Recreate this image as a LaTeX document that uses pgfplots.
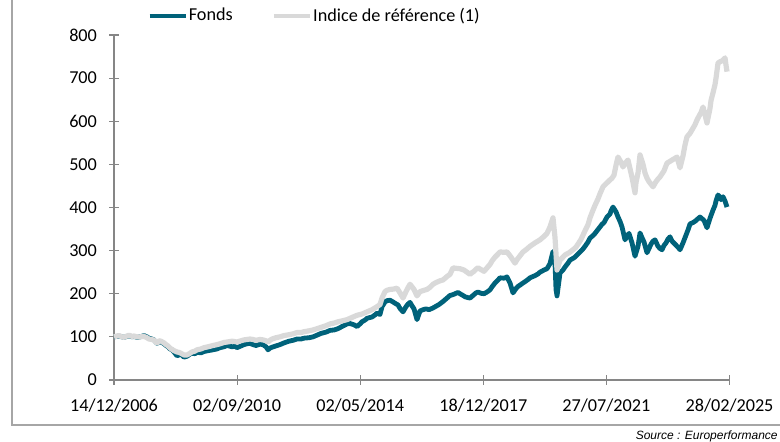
\documentclass[border=0pt]{standalone}
\usepackage{fontspec}
\setmainfont{Carlito}
\newfontfamily\arialfont{Liberation Sans}
\usepackage{pgfplots}
\pgfplotsset{compat=1.18}
\definecolor{fonds}{RGB}{0,98,122}
\definecolor{indice}{RGB}{217,217,217}
\definecolor{axgray}{RGB}{134,134,134}
\definecolor{framegray}{RGB}{166,166,166}
\begin{document}
\begin{tikzpicture}
\useasboundingbox (0,0) rectangle (390pt,221pt);
\clip (0,0) rectangle (390pt,221pt);
\draw[framegray, line width=0.8pt] (6pt,222pt) -- (6pt,8.5pt) -- (392pt,8.5pt);
\node[anchor=east, inner sep=0pt, font=\arialfont\itshape\fontsize{6}{7}\selectfont] at (389pt,2.8pt) {Source : Europerformance};
\begin{axis}[
  scale only axis, width=307.75pt, height=172.5pt,
  at={(57pt,31pt)}, anchor=south west,
  xmin=0, xmax=615.5, ymin=0, ymax=800,
  axis x line=bottom, axis y line=left,
  axis line style={axgray, line width=0.6pt, -},
  every tick/.style={axgray, line width=0.6pt},
  tick align=center, major tick length=5pt,
  xtick={0,123.1,246.2,369.3,492.4,615.5},
  xticklabels={14/12/2006,02/09/2010,02/05/2014,18/12/2017,27/07/2021,28/02/2025},
  ytick={0,100,...,800},
  /pgf/number format/assume math mode=true,
  ticklabel style={font=\fontsize{9.1}{11}\selectfont, text=black},
  xticklabel style={yshift=-3.5pt},
  yticklabel style={xshift=-2.5pt},
  legend style={at={(0.054,1.055)}, anchor=west, draw=none, fill=none,
    legend columns=2, font=\fontsize{9.1}{11}\selectfont,
    /tikz/every even column/.style={column sep=19pt},
    inner sep=0pt, nodes={inner sep=0.6pt}},
  legend image code/.code={\draw[#1, line width=2pt] (0pt,0pt) -- (18pt,0pt);},
  clip=false,
]
\addplot[fonds, line width=2.4pt, line join=round] coordinates {
(0,100)(3,101)(5,102)(8,100)(10,99)(13,101)(15,103)(18,100)(20,101)(23,99)(26,100)(30,103)(33,100)(35,97)(38,95)(40,93)(43,85)(45,89)(47,88)(50,84)(52,80)(54,77)(56,72)(58,70)(60,65)(63,56)(65,58)(67,60)(70,53)(73,55)(76,60)(78,62)(81,61)(83,64)(87,63)(90,66)(94,68)(99,70)(103,72)(106,75)(110,77)(113,80)(118,77)(121,78)(123,75)(127,79)(130,82)(133,84)(136,85)(139,82)(142,80)(146,83)(149,82)(152,77)(154,70)(156,74)(158,76)(162,79)(166,82)(170,86)(175,90)(179,92)(183,95)(187,95)(190,97)(195,98)(199,100)(203,104)(207,108)(212,111)(216,115)(220,116)(224,119)(228,124)(233,130)(236,131)(240,128)(243,124)(246,130)(248,135)(251,139)(253,143)(256,145)(258,146)(261,151)(263,155)(266,152)(268,170)(271,181)(273,184)(276,185)(279,181)(281,178)(284,174)(286,166)(289,158)(292,170)(294,176)(296,180)(298,172)(300,165)(303,140)(306,160)(309,163)(312,165)(315,163)(319,167)(322,171)(325,175)(329,182)(333,190)(336,196)(339,198)(341,200)(344,203)(346,200)(349,196)(351,193)(354,191)(356,190)(358,194)(360,198)(362,202)(364,204)(367,201)(370,200)(373,204)(376,209)(378,216)(381,225)(384,232)(386,237)(390,236)(393,239)(396,225)(399,202)(402,212)(404,217)(406,220)(409,225)(411,228)(414,233)(416,237)(419,240)(421,242)(424,246)(426,250)(430,255)(433,258)(436,270)(439,298)(441,270)(442,210)(443,195)(445,230)(446,248)(449,255)(451,262)(454,271)(456,278)(459,282)(461,285)(464,292)(466,297)(469,304)(471,310)(474,320)(476,329)(479,335)(481,340)(484,349)(486,355)(488,361)(490,365)(493,378)(496,385)(497,392)(499,401)(502,390)(504,378)(506,368)(508,355)(511,325)(513,334)(515,340)(518,318)(521,287)(524,310)(526,341)(528,330)(530,320)(533,295)(535,305)(537,315)(539,322)(541,325)(544,310)(546,305)(548,302)(550,312)(552,318)(554,327)(556,332)(558,322)(561,315)(564,308)(566,302)(569,318)(571,330)(574,348)(576,362)(579,365)(581,368)(584,374)(586,378)(590,370)(593,353)(596,375)(599,394)(601,405)(602,415)(604,429)(606,424)(607,418)(609,425)(611,415)(613,401)
};
\addlegendentry{Fonds}
\addplot[indice, line width=2.6pt, line join=round] coordinates {
(0,100)(3,102)(5,103)(8,100)(10,99)(13,102)(15,104)(18,101)(20,102)(23,100)(26,100)(30,101)(33,98)(35,95)(38,94)(40,92)(43,86)(45,91)(47,90)(50,86)(52,82)(54,79)(56,74)(58,71)(60,68)(63,65)(65,64)(67,62)(70,58)(73,58)(76,62)(78,65)(81,67)(83,70)(87,72)(90,75)(94,77)(99,80)(103,82)(106,84)(110,87)(113,88)(118,90)(121,89)(123,88)(127,91)(130,93)(133,94)(136,95)(139,94)(142,92)(146,94)(149,93)(152,91)(154,88)(156,92)(158,95)(162,98)(166,100)(170,103)(175,105)(179,107)(183,110)(187,110)(190,112)(195,114)(199,116)(203,119)(207,122)(212,126)(216,130)(220,132)(224,135)(228,137)(233,140)(238,145)(243,150)(248,153)(253,158)(258,163)(263,170)(266,175)(268,190)(271,205)(273,208)(276,210)(280,211)(283,213)(286,202)(289,190)(292,205)(294,214)(296,222)(298,216)(300,210)(303,195)(306,205)(310,208)(313,210)(316,215)(319,222)(322,226)(326,230)(329,232)(333,240)(336,245)(339,260)(342,259)(346,258)(350,255)(353,250)(356,245)(358,249)(360,252)(362,257)(364,260)(367,256)(370,252)(373,260)(376,268)(378,276)(381,285)(384,292)(386,297)(390,296)(393,297)(397,285)(401,271)(403,279)(405,285)(409,297)(412,302)(416,310)(421,318)(426,325)(430,333)(433,340)(436,355)(439,376)(441,330)(443,255)(446,278)(449,285)(451,290)(455,295)(459,302)(462,308)(464,315)(467,326)(469,336)(471,346)(474,360)(476,376)(479,394)(481,405)(484,420)(486,432)(489,448)(492,455)(496,464)(498,468)(500,475)(502,498)(504,517)(507,505)(509,494)(512,505)(514,510)(516,490)(518,470)(521,434)(522,458)(524,480)(526,522)(529,500)(531,480)(533,468)(535,460)(539,448)(542,460)(544,466)(546,471)(548,478)(550,485)(553,503)(556,507)(558,510)(561,514)(563,517)(566,492)(569,520)(571,545)(573,564)(576,572)(578,580)(581,592)(583,603)(585,612)(587,620)(589,633)(591,615)(593,596)(596,630)(597,648)(599,666)(601,685)(602,700)(604,735)(606,738)(608,740)(610,744)(611,747)(612,730)(613,715)
};
\addlegendentry{Indice de référence (1)}
\end{axis}
\end{tikzpicture}
\end{document}
